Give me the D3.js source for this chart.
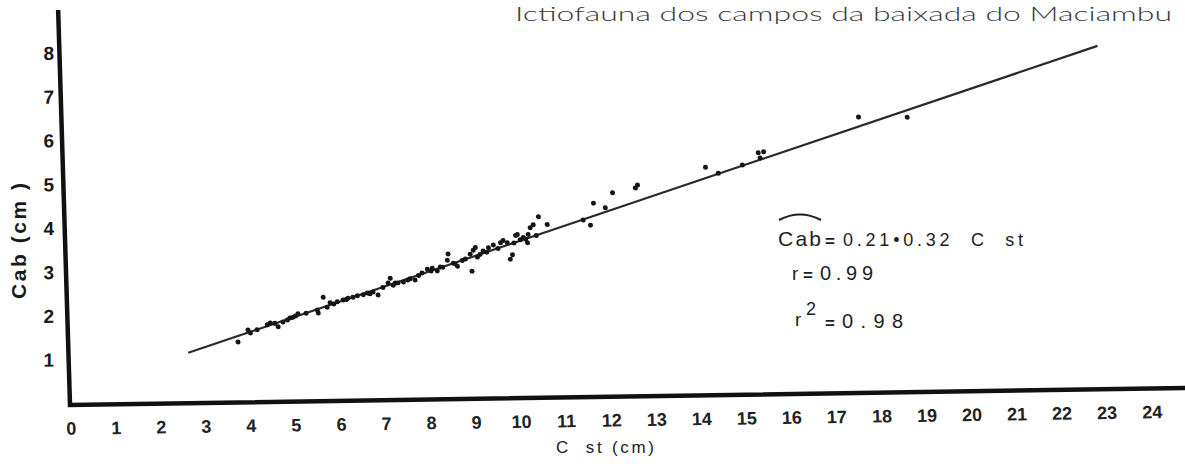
<!DOCTYPE html>
<html>
<head>
<meta charset="utf-8">
<script src="https://cdn.jsdelivr.net/npm/d3@7"></script>
<style>
  html, body { margin: 0; padding: 0; background: #fff; }
  svg { display: block; }
</style>
</head>
<body>
<svg id="chart"></svg>
<script>
// tick labels
const xTicks = d3.range(0, 25);
const yTicks = [1, 2, 3, 4, 5, 6, 7, 8];

// C st (cm) / Cab (cm) of each fish
const cst = [
  3.77, 4.00, 4.05, 4.20, 4.43, 4.50, 4.60, 4.67, 4.78, 4.88, 4.94, 5.00, 5.06,
  5.12, 5.30, 5.55, 5.57, 5.69, 5.77, 5.84, 5.92, 6.00, 6.13, 6.20, 6.24, 6.35,
  6.45, 6.58, 6.67, 6.73, 6.80, 6.91, 7.02, 7.14, 7.19, 7.25, 7.30, 7.36,
  7.48, 7.58, 7.63, 7.74, 7.82, 7.90, 8.02, 8.10, 8.13, 8.24, 8.31, 8.36, 8.47, 8.49,
  8.60, 8.64, 8.69, 8.80, 8.87, 8.98, 9.01, 9.05, 9.10, 9.14, 9.20, 9.27, 9.35, 9.39,
  9.50, 9.60, 9.66, 9.72, 9.81, 9.87, 9.92, 9.96, 10.00, 10.04, 10.10, 10.17, 10.22,
  10.26, 10.28, 10.33, 10.40, 10.46, 10.52, 10.71, 11.51, 11.67, 11.75, 12.01,
  12.18, 12.69, 12.74, 14.26, 14.54, 15.08, 15.44, 15.48, 15.56, 17.69,
  18.77
];
const cab = [
  1.35, 1.62, 1.55, 1.62, 1.73, 1.77, 1.76, 1.68, 1.79, 1.83, 1.88, 1.89, 1.92,
  1.97, 1.98, 2.05, 1.98, 2.34, 2.11, 2.21, 2.18, 2.23, 2.27, 2.28, 2.31, 2.33,
  2.36, 2.38, 2.42, 2.40, 2.44, 2.37, 2.54, 2.64, 2.75, 2.59, 2.64, 2.64,
  2.66, 2.70, 2.73, 2.70, 2.80, 2.86, 2.94, 2.90, 2.96, 2.90, 2.99, 2.98, 3.14, 3.28,
  3.07, 3.05, 3.00, 3.13, 3.16, 3.27, 2.88, 3.36, 3.42, 3.20, 3.26, 3.34, 3.31, 3.41,
  3.47, 3.39, 3.52, 3.57, 3.52, 3.14, 3.24, 3.51, 3.68, 3.70, 3.58, 3.63, 3.59,
  3.51, 3.70, 3.85, 3.92, 3.67, 4.10, 3.92, 4.01, 3.89, 4.39, 4.28,
  4.62, 4.72, 4.79, 5.17, 5.03, 5.21, 5.48, 5.36, 5.50, 6.26,
  6.24
];

// fitted line, as drawn (ends)
const fitX = [2.66, 23.04];
const fitY = [1.12, 7.80];

const W = 1185, H = 466;
const svg = d3.select('#chart').attr('width', W).attr('height', H);
svg.append('rect').attr('width', W).attr('height', H).attr('fill', '#fff');

const x = d3.scaleLinear().domain([0, 24]).range([70, 1151]);
const y = d3.scaleLinear().domain([0, 8]).range([403.7, 52.9]);

// the scanned sheet is a bit skewed
const kx = -0.0152, ky = 0.03;
const ox = 70, oy = 405;
const plot = svg.append('g')
  .attr('transform', `matrix(1,${kx},${ky},1,${-ky * oy},${-kx * ox})`);

const sans = '"Liberation Sans", Arial, sans-serif';

// axes lines
plot.append('path')
  .attr('d', `M${ox},10 L${ox},${oy} L1210,${oy}`)
  .attr('fill', 'none')
  .attr('stroke', '#111')
  .attr('stroke-width', 4.5)
  .attr('stroke-linejoin', 'miter');

// x tick labels
const gx = plot.append('g')
  .attr('transform', `translate(0,${oy})`)
  .call(d3.axisBottom(x).tickValues(xTicks).tickSize(0).tickPadding(17).tickFormat(d3.format('d')));
gx.select('.domain').remove();
gx.selectAll('text')
  .attr('font-family', sans)
  .attr('font-size', 18)
  .attr('font-weight', 'bold')
  .attr('fill', '#222');

// y tick labels (they do not lean with the axis)
const gy = svg.append('g')
  .attr('transform', `matrix(1,${kx},0,1,0,${-kx * ox})`)
  .append('g')
  .attr('transform', `translate(${ox},0)`)
  .call(d3.axisLeft(y).tickValues(yTicks).tickSize(0).tickPadding(16));
gy.select('.domain').remove();
gy.selectAll('text')
  .attr('font-family', sans)
  .attr('font-size', 19)
  .attr('font-weight', 'bold')
  .attr('fill', '#1a1a1a');

// regression line
plot.append('line')
  .attr('x1', x(fitX[0])).attr('y1', y(fitY[0]))
  .attr('x2', x(fitX[1])).attr('y2', y(fitY[1]))
  .attr('stroke', '#2a2a2a')
  .attr('stroke-width', 2.2);

// points
plot.selectAll('circle.pt')
  .data(d3.zip(cst, cab))
  .enter()
  .append('circle')
  .attr('class', 'pt')
  .attr('cx', d => x(d[0]))
  .attr('cy', d => y(d[1]))
  .attr('r', 2.5)
  .attr('fill', '#151515');

// axis titles
svg.append('text')
  .attr('x', 556).attr('y', 453)
  .attr('font-family', sans).attr('font-size', 17)
  .attr('fill', '#222')
  .attr('textLength', 98).attr('lengthAdjust', 'spacing')
  .style('white-space', 'pre')
  .text('C  st (cm)');

svg.append('text')
  .attr('transform', 'translate(26,241) rotate(-90)')
  .attr('text-anchor', 'middle')
  .attr('font-family', sans).attr('font-size', 21).attr('font-weight', 'bold')
  .attr('fill', '#1a1a1a')
  .attr('textLength', 116).attr('lengthAdjust', 'spacing')
  .style('white-space', 'pre')
  .text('Cab (cm )');

// title, at the top of the scan
svg.append('text')
  .attr('x', 515).attr('y', 21)
  .attr('font-family', 'Lato, "Open Sans", sans-serif')
  .attr('font-size', 20).attr('font-weight', 300)
  .attr('fill', '#3a3a3a')
  .attr('textLength', 657).attr('lengthAdjust', 'spacingAndGlyphs')
  .text('Ictiofauna dos campos da baixada do Maciambu');

// regression annotation
const ann = svg.append('g')
  .attr('font-family', sans)
  .attr('fill', '#1e1e1e');

function put(txt, x0, yb, size, len, bold) {
  const t = ann.append('text')
    .attr('x', x0).attr('y', yb)
    .attr('font-size', size)
    .attr('font-weight', bold ? 'bold' : 'normal')
    .style('white-space', 'pre')
    .text(txt);
  if (len) t.attr('textLength', len).attr('lengthAdjust', 'spacing');
  return t;
}

put('Cab', 778, 246, 21, 43);
ann.append('path')
  .attr('d', 'M779,220 Q800,209 821,220')
  .attr('fill', 'none').attr('stroke', '#1e1e1e').attr('stroke-width', 2);
put('=', 825, 247, 17, 14, true);
put('0.21\u20220.32  C  st', 843, 246, 18, 180);

put('r', 792, 280, 19);
put('=', 803, 281, 17, 13, true);
put('0.99', 820, 280, 20, 53);

put('r', 795, 326, 19);
put('2', 806, 315, 18);
put('=', 825, 329, 17, 14, true);
put('0.98', 842, 328, 20, 61);
</script>
</body>
</html>
